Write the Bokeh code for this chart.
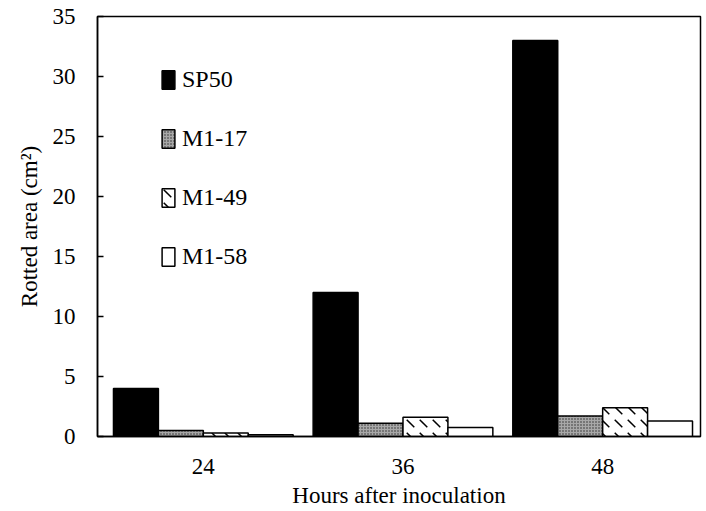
from bokeh.plotting import figure
from bokeh.models import Range1d, FixedTicker, Legend, LegendItem, ColumnDataSource
from bokeh.transform import dodge
from bokeh.embed import file_html
from bokeh.resources import INLINE

hours = ["24", "36", "48"]
sp50 = [4.0, 12.0, 33.0]
m1_17 = [0.5, 1.1, 1.7]
m1_49 = [0.3, 1.6, 2.4]
m1_58 = [0.15, 0.75, 1.3]

pos = [1, 2, 3]
src = ColumnDataSource(dict(pos=pos, sp50=sp50, m1_17=m1_17, m1_49=m1_49, m1_58=m1_58))

FONT = "Liberation Serif"

p = figure(width=706, height=511, output_backend="svg", toolbar_location=None,
           x_range=Range1d(0.47, 3.49), y_range=Range1d(0, 35),
           min_border_left=97, min_border_right=6, min_border_top=16, min_border_bottom=75)
p.grid.visible = False
p.background_fill_color = "white"
p.border_fill_color = "white"
p.outline_line_color = "black"
p.outline_line_width = 1.5

w = 0.225
styles = [
    ("sp50", "SP50", -1.5 * w, dict(fill_color="black", line_color="black")),
    ("m1_17", "M1-17", -0.5 * w, dict(fill_color="#a8a8a8", line_color="black",
                                        hatch_pattern="dot", hatch_color="#2a2a2a",
                                        hatch_scale=3, hatch_weight=1)),
    ("m1_49", "M1-49", 0.5 * w, dict(fill_color="white", line_color="black",
                                       hatch_pattern="left_diagonal_dash", hatch_color="black",
                                       hatch_scale=13, hatch_weight=1.5)),
    ("m1_58", "M1-58", 1.5 * w, dict(fill_color="white", line_color="black")),
]
items = []
for col, name, off, st in styles:
    r = p.vbar(x=dodge("pos", off, range=p.x_range), top=col, width=w, bottom=0,
               source=src, line_width=1.5, **st)
    items.append(LegendItem(label=name, renderers=[r]))

legend = Legend(items=items, location=(63, 166), orientation="vertical",
                spacing=32, glyph_width=16, glyph_height=23, label_standoff=6,
                padding=0, margin=0, border_line_color=None, background_fill_alpha=0,
                label_text_font=FONT, label_text_font_size="24px", label_height=23,
                label_text_color="black")
p.add_layout(legend, "center")

p.xaxis.ticker = FixedTicker(ticks=pos)
p.xaxis.major_label_overrides = {i: h for i, h in zip(pos, hours)}
p.xaxis.major_tick_line_color = None
p.xaxis.minor_tick_line_color = None
p.xaxis.major_label_standoff = 16
p.xaxis.axis_label = "Hours after inoculation"
p.xaxis.axis_label_standoff = 6

p.yaxis.ticker = FixedTicker(ticks=[0, 5, 10, 15, 20, 25, 30, 35])
p.yaxis.major_tick_in = 6
p.yaxis.major_tick_out = 0
p.yaxis.minor_tick_line_color = None
p.yaxis.major_label_standoff = 22
p.yaxis.axis_label = "Rotted area (cm²)"
p.yaxis.axis_label_standoff = 8

for ax in (p.xaxis, p.yaxis):
    ax.axis_line_color = "black"
    ax.axis_line_width = 1.5
    ax.major_tick_line_width = 1.5
    ax.major_label_text_font = FONT
    ax.major_label_text_font_size = "23px"
    ax.major_label_text_color = "black"
    ax.axis_label_text_font = FONT
    ax.axis_label_text_font_size = "23px"
    ax.axis_label_text_font_style = "normal"
    ax.axis_label_text_color = "black"

open("out.html", "w").write(file_html(p, INLINE))
